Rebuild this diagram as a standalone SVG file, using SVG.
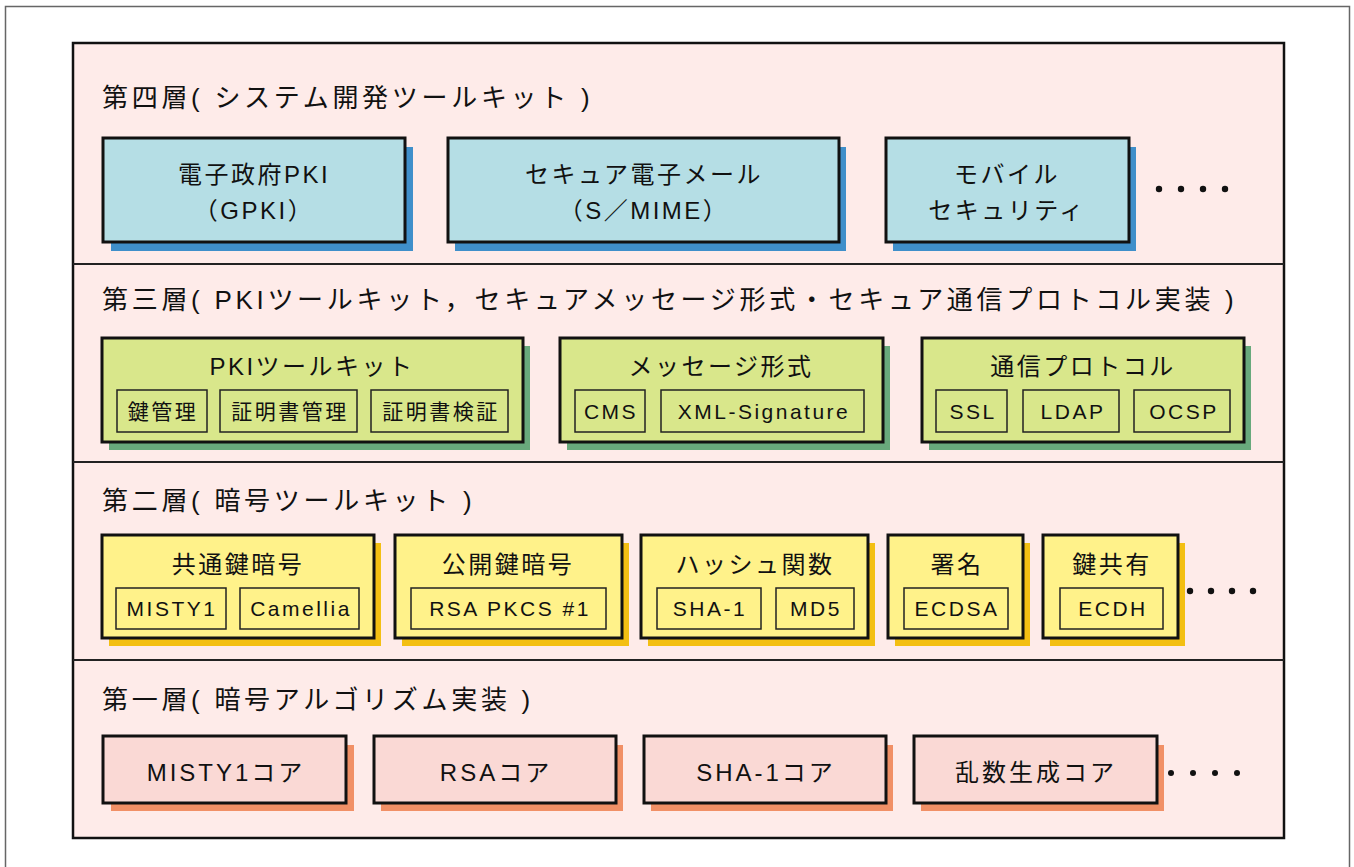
<svg xmlns="http://www.w3.org/2000/svg" width="1354" height="867" viewBox="0 0 1354 867">
<defs>
<style>
text{font-family:"Liberation Sans","Noto Sans CJK JP",sans-serif;fill:#111;}
.lt{font-size:26px;letter-spacing:3.7px;}
.bt{font-size:24px;letter-spacing:2.5px;text-anchor:middle;}
.ct{font-size:24px;letter-spacing:3px;text-anchor:middle;}
.it{font-size:21px;letter-spacing:2.5px;text-anchor:middle;}
.box{stroke:#111;stroke-width:3;}
.ibox{stroke:#222;stroke-width:1.5;}
.b4{fill:#b5dee5;} .s4{fill:#3f8fca;}
.b3{fill:#d9e78b;} .s3{fill:#68a97c;}
.b2{fill:#fff28a;} .s2{fill:#f3bf12;}
.b1{fill:#fad9d5;} .s1{fill:#f19066;}
.dot{fill:#111;}
</style>
</defs>
<rect x="0" y="0" width="1354" height="867" fill="#fff"/>
<rect x="5.5" y="6.5" width="1344" height="870" fill="none" stroke="#666" stroke-width="1.5"/>
<rect x="73" y="43" width="1211" height="795" fill="#feebe9" stroke="#111" stroke-width="2.5"/>
<g id="dividers" stroke="#222" stroke-width="2">
<line x1="73" y1="264" x2="1284" y2="264"/>
<line x1="73" y1="462" x2="1284" y2="462"/>
<line x1="73" y1="660" x2="1284" y2="660"/>
</g>

<g id="layer4">
<text class="lt" x="102" y="107">第四層( システム開発ツールキット )</text>
<g id="gpki">
<rect class="s4" x="111" y="147" width="302" height="104"/>
<rect class="box b4" x="103" y="138" width="302" height="104"/>
<text class="bt" x="254" y="183">電子政府PKI</text>
<text class="bt" x="254" y="219">（GPKI）</text>
</g>
<g id="smime">
<rect class="s4" x="455" y="147" width="391" height="104"/>
<rect class="box b4" x="448" y="138" width="391" height="104"/>
<text class="bt" x="644" y="183">セキュア電子メール</text>
<text class="bt" x="644" y="219">（S／MIME）</text>
</g>
<g id="mobile">
<rect class="s4" x="893" y="147" width="243" height="104"/>
<rect class="box b4" x="886" y="138" width="243" height="104"/>
<text class="bt" x="1007" y="183">モバイル</text>
<text class="bt" x="1007" y="219">セキュリティ</text>
</g>
<g id="dots4" class="dot">
<circle cx="1159" cy="189" r="3.2"/><circle cx="1181" cy="189" r="3.2"/><circle cx="1203" cy="189" r="3.2"/><circle cx="1225" cy="189" r="3.2"/>
</g>
</g>

<g id="layer3">
<text class="lt" x="102" y="309">第三層( PKIツールキット，セキュアメッセージ形式・セキュア通信プロトコル実装 )</text>
<g id="pkitk">
<rect class="s3" x="109" y="346" width="421" height="104"/>
<rect class="box b3" x="102" y="338" width="421" height="104"/>
<text class="bt" x="312" y="375">PKIツールキット</text>
<rect class="ibox b3" x="117" y="390" width="90" height="42"/>
<text class="it" x="163" y="419">鍵管理</text>
<rect class="ibox b3" x="220" y="390" width="137" height="42"/>
<text class="it" x="290" y="419">証明書管理</text>
<rect class="ibox b3" x="371" y="390" width="137" height="42"/>
<text class="it" x="441" y="419">証明書検証</text>
</g>
<g id="msgfmt">
<rect class="s3" x="567" y="346" width="323" height="104"/>
<rect class="box b3" x="560" y="338" width="323" height="104"/>
<text class="bt" x="721" y="375">メッセージ形式</text>
<rect class="ibox b3" x="575" y="390" width="70" height="42"/>
<text class="it" x="611" y="419">CMS</text>
<rect class="ibox b3" x="661" y="390" width="203" height="42"/>
<text class="it" x="764" y="419">XML-Signature</text>
</g>
<g id="proto">
<rect class="s3" x="929" y="346" width="322" height="104"/>
<rect class="box b3" x="922" y="338" width="322" height="104"/>
<text class="bt" x="1083" y="375">通信プロトコル</text>
<rect class="ibox b3" x="936" y="390" width="71" height="42"/>
<text class="it" x="973" y="419">SSL</text>
<rect class="ibox b3" x="1023" y="390" width="96" height="42"/>
<text class="it" x="1073" y="419">LDAP</text>
<rect class="ibox b3" x="1134" y="390" width="96" height="42"/>
<text class="it" x="1184" y="419">OCSP</text>
</g>
</g>

<g id="layer2">
<text class="lt" x="102" y="510">第二層( 暗号ツールキット )</text>
<g id="symm">
<rect class="s2" x="109" y="543" width="272" height="103"/>
<rect class="box b2" x="102" y="535" width="272" height="103"/>
<text class="bt" x="238" y="573">共通鍵暗号</text>
<rect class="ibox b2" x="116" y="588" width="110" height="41"/>
<text class="it" x="172" y="616">MISTY1</text>
<rect class="ibox b2" x="240" y="588" width="119" height="41"/>
<text class="it" x="301" y="616">Camellia</text>
</g>
<g id="pubkey">
<rect class="s2" x="402" y="543" width="227" height="103"/>
<rect class="box b2" x="395" y="535" width="227" height="103"/>
<text class="bt" x="508" y="573">公開鍵暗号</text>
<rect class="ibox b2" x="411" y="588" width="195" height="41"/>
<text class="it" x="510" y="616">RSA PKCS #1</text>
</g>
<g id="hash">
<rect class="s2" x="648" y="543" width="227" height="103"/>
<rect class="box b2" x="641" y="535" width="227" height="103"/>
<text class="bt" x="755" y="573">ハッシュ関数</text>
<rect class="ibox b2" x="657" y="588" width="104" height="41"/>
<text class="it" x="710" y="616">SHA-1</text>
<rect class="ibox b2" x="776" y="588" width="78" height="41"/>
<text class="it" x="816" y="616">MD5</text>
</g>
<g id="sign">
<rect class="s2" x="895" y="543" width="135" height="103"/>
<rect class="box b2" x="888" y="535" width="135" height="103"/>
<text class="bt" x="957" y="573">署名</text>
<rect class="ibox b2" x="904" y="588" width="104" height="41"/>
<text class="it" x="957" y="616">ECDSA</text>
</g>
<g id="keyshare">
<rect class="s2" x="1050" y="543" width="135" height="103"/>
<rect class="box b2" x="1043" y="535" width="135" height="103"/>
<text class="bt" x="1112" y="573">鍵共有</text>
<rect class="ibox b2" x="1060" y="588" width="103" height="41"/>
<text class="it" x="1113" y="616">ECDH</text>
</g>
<g id="dots2" class="dot">
<circle cx="1190" cy="591" r="3.2"/><circle cx="1211" cy="591" r="3.2"/><circle cx="1232" cy="591" r="3.2"/><circle cx="1253" cy="591" r="3.2"/>
</g>
</g>

<g id="layer1">
<text class="lt" x="102" y="709">第一層( 暗号アルゴリズム実装 )</text>
<g id="mistycore">
<rect class="s1" x="111" y="745" width="243" height="66"/>
<rect class="box b1" x="103" y="736" width="243" height="67"/>
<text class="ct" x="226" y="781">MISTY1コア</text>
</g>
<g id="rsacore">
<rect class="s1" x="381" y="745" width="242" height="66"/>
<rect class="box b1" x="374" y="736" width="242" height="67"/>
<text class="ct" x="496" y="781">RSAコア</text>
</g>
<g id="shacore">
<rect class="s1" x="651" y="745" width="242" height="66"/>
<rect class="box b1" x="644" y="736" width="242" height="67"/>
<text class="ct" x="766" y="781">SHA-1コア</text>
</g>
<g id="rngcore">
<rect class="s1" x="921" y="745" width="243" height="66"/>
<rect class="box b1" x="914" y="736" width="243" height="67"/>
<text class="ct" x="1036" y="781">乱数生成コア</text>
</g>
<g id="dots1" class="dot">
<circle cx="1171" cy="773" r="3"/><circle cx="1193" cy="773" r="3"/><circle cx="1215" cy="773" r="3"/><circle cx="1237" cy="773" r="3"/>
</g>
</g>
<g id="connectors"/>
</svg>
